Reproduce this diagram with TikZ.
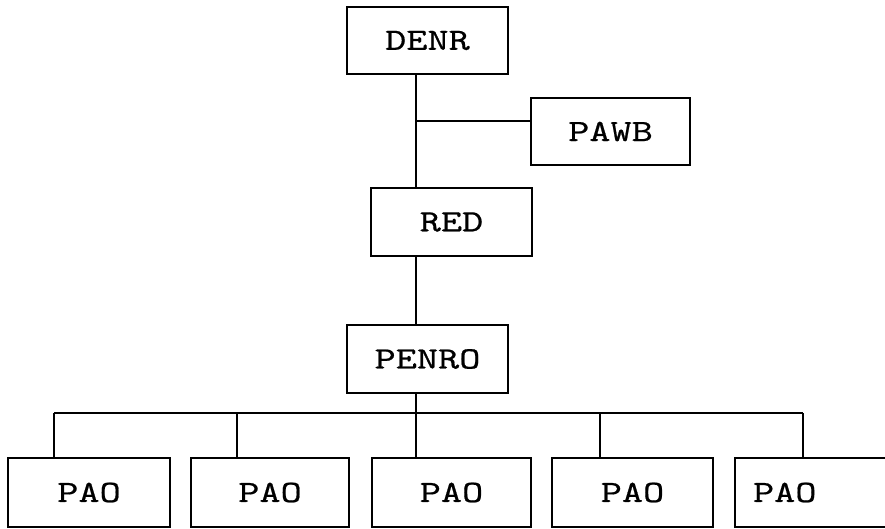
\documentclass[tikz,border=0pt]{standalone}
\usepackage{fontspec}
\newfontfamily\typefont[FakeStretch=1.3,FakeBold=0.6]{lmmono10-regular.otf}
\usetikzlibrary{calc, positioning}

\tikzset{
  unit/.style={draw,line width=1.3pt,rectangle,minimum width=160pt,
    minimum height=68pt,inner sep=0pt,font=\typefont\fontsize{31}{31}\selectfont},
  link/.style={line width=1.3pt,black}
}

\begin{document}
\begin{tikzpicture}[x=1pt,y=-1pt]
\useasboundingbox (0,0) rectangle (885,528);

\node[unit,minimum width=161pt,minimum height=67pt] (DENR) at (427.5,40.5) {DENR};
\node[unit,minimum width=159pt,minimum height=67pt] (PAWB) at (610.5,131.5) {PAWB};
\node[unit,minimum width=161pt] (RED) at (451.5,222) {RED};
\node[unit,minimum width=161pt] (PENRO) at (427.5,359) {PENRO};

\node[unit,minimum width=162pt,minimum height=69pt] (PAO1) at (89,492.5) {PAO};
\node[unit,minimum width=158pt,minimum height=69pt] (PAO2) at (270,492.5) {PAO};
\node[unit,minimum width=159pt,minimum height=69pt] (PAO3) at (451.5,492.5) {PAO};
\node[unit,minimum width=161pt,minimum height=69pt] (PAO4) at (632.5,492.5) {PAO};
\node[unit,minimum height=69pt,text width=124pt,inner xsep=18pt,align=left]
    (PAO5) at (815,492.5) {PAO};

\coordinate (trunk) at (416,0);
\coordinate (fork) at (416,121);
\coordinate (bus) at (0,413);

% DENR -- RED, with PAWB on the side
\draw[link] (DENR.south -| trunk) -- (RED.north -| trunk);
\draw[link] (fork) -- (fork -| PAWB.west);
\draw[link] (RED.south -| trunk) -- (PENRO.north -| trunk);
\draw[link] (PENRO.south -| trunk) -- (bus -| trunk);

% bus to the PAOs
\foreach \n/\x in {1/54,2/237,3/416,4/600,5/803}
  \coordinate (drop\n) at (\x,413);
\draw[link] (drop1) -- (drop5);
\foreach \n in {1,...,5}
  \draw[link] (drop\n) -- (drop\n |- PAO\n.north);
\end{tikzpicture}
\end{document}
